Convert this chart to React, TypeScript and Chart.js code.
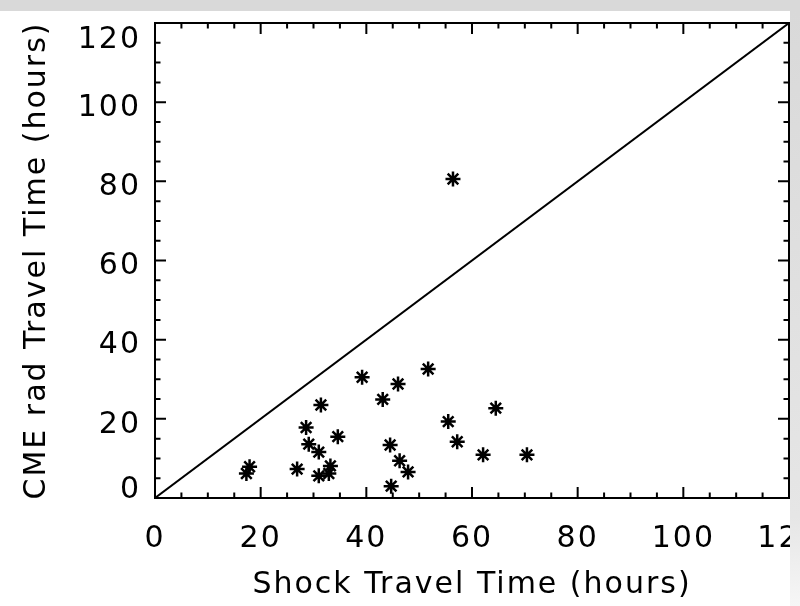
import React, { useEffect, useRef } from "react";
import { Chart, registerables } from "chart.js";

Chart.register(...registerables);

// Shock travel time (hours) vs CME rad travel time (hours)
const shockTimes = [
  17.3, 17.9, 26.9, 28.6, 29.1, 31.0, 31.4, 31.0, 32.9, 33.2, 34.6, 39.2, 43.1,
  46.0, 44.5, 46.3, 44.7, 47.9, 51.7, 56.4, 55.5, 57.2, 64.5, 62.1, 70.4,
];
const cmeTimes = [
  6.2, 7.9, 7.3, 17.8, 13.6, 11.6, 23.5, 5.6, 6.2, 8.1, 15.5, 30.5, 24.9,
  28.8, 13.4, 9.4, 3.0, 6.6, 32.6, 80.6, 19.3, 14.2, 22.7, 10.9, 10.9,
];
const refLineX = [0, 120];
const refLineY = [0, 120];
const xTickValues = [0, 20, 40, 60, 80, 100, 120];
const yTickValues = [0, 20, 40, 60, 80, 100, 120];
const xTitle = "Shock Travel Time (hours)";
const yTitle = "CME rad Travel Time (hours)";

const FONT = "'DejaVu Sans', sans-serif";

const framePlugin = {
  id: "idlFrame",
  beforeDraw(chart: any) {
    (chart.ctx as any).letterSpacing = "2px";
    // nudge the end labels of the y axis the way the original plot places them
    const ys = chart.scales.y;
    const items = ys.getLabelItems();
    items.forEach((it: any) => {
      if (it._nudged) return;
      if (it.label === "120") it.options.translation[1] += 11;
      if (it.label === "0") it.options.translation[1] -= 14;
      it._nudged = true;
    });
  },
  afterDatasetsDraw(chart: any) {
    const { ctx, chartArea } = chart;
    const xs = chart.scales.x;
    const ys = chart.scales.y;
    const { left, right, top, bottom } = chartArea;
    ctx.save();
    ctx.strokeStyle = "#000";
    ctx.lineWidth = 2;
    ctx.strokeRect(left, top, right - left, bottom - top);
    ctx.beginPath();
    for (let v = 0; v <= 120; v += 5) {
      const major = v % 20 === 0;
      const len = major ? 11 : 5.5;
      const px = xs.getPixelForValue(v);
      ctx.moveTo(px, bottom);
      ctx.lineTo(px, bottom - len);
      ctx.moveTo(px, top);
      ctx.lineTo(px, top + len);
      const py = ys.getPixelForValue(v);
      ctx.moveTo(left, py);
      ctx.lineTo(left + len, py);
      ctx.moveTo(right, py);
      ctx.lineTo(right - len, py);
    }
    ctx.stroke();
    ctx.restore();
  },
  afterDraw(chart: any) {
    const { ctx, width, height } = chart;
    ctx.save();
    (ctx as any).letterSpacing = "0px";
    ctx.fillStyle = "#d9d9d9";
    ctx.fillRect(0, 0, width, 11);
    const g = ctx.createLinearGradient(0, 11, 0, height);
    g.addColorStop(0, "#d9d9d9");
    g.addColorStop(0.85, "#e6e6e6");
    g.addColorStop(1, "#f6f6f6");
    ctx.fillStyle = g;
    ctx.fillRect(790, 11, width - 790, height - 11);
    ctx.restore();
    (ctx as any).letterSpacing = "0px";
  },
};

export default function App() {
  const ref = useRef<HTMLCanvasElement | null>(null);

  useEffect(() => {
    document.body.style.margin = "0";
    const canvas = ref.current;
    if (!canvas) return;
    const points = shockTimes.map((x, i) => ({ x, y: cmeTimes[i] }));
    const line = refLineX.map((x, i) => ({ x, y: refLineY[i] }));
    const tickFont = { family: FONT, size: 30, weight: "normal" as const };

    const chart = new Chart(canvas, {
      type: "scatter",
      data: {
        datasets: [
          {
            data: points,
            pointStyle: "star",
            pointRadius: 7.5,
            borderColor: "#000",
            backgroundColor: "#000",
            borderWidth: 2.5,
          } as any,
          {
            type: "line",
            data: line,
            borderColor: "#000",
            borderWidth: 2,
            pointRadius: 0,
            showLine: true,
            fill: false,
          } as any,
        ],
      },
      options: {
        responsive: false,
        animation: false,
        devicePixelRatio: 1,
        layout: { padding: { left: 0, top: 23, right: 11, bottom: 0 } },
        plugins: {
          legend: { display: false },
          tooltip: { enabled: false },
        },
        scales: {
          x: {
            type: "linear",
            min: 0,
            max: 120,
            afterBuildTicks: (scale: any) => {
              scale.ticks = xTickValues.map((v) => ({ value: v }));
            },
            afterFit: (scale: any) => {
              scale.height = 108;
              scale.paddingLeft = 0;
              scale.paddingRight = 0;
            },
            grid: { display: false, drawTicks: false },
            border: { display: false },
            ticks: {
              autoSkip: false,
              maxRotation: 0,
              color: "#000",
              font: tickFont,
              padding: 23,
            },
            title: {
              display: true,
              text: xTitle,
              color: "#000",
              font: tickFont,
              padding: { top: 0, bottom: 3 },
            },
          },
          y: {
            type: "linear",
            min: 0,
            max: 120,
            afterBuildTicks: (scale: any) => {
              scale.ticks = yTickValues.map((v) => ({ value: v }));
            },
            afterFit: (scale: any) => {
              scale.width = 155;
              scale.paddingTop = 0;
              scale.paddingBottom = 0;
            },
            grid: { display: false, drawTicks: false },
            border: { display: false },
            ticks: {
              autoSkip: false,
              color: "#000",
              font: tickFont,
              padding: 14,
              labelOffset: 6,
            },
            title: {
              display: true,
              text: yTitle,
              color: "#000",
              font: tickFont,
              padding: { top: 19, bottom: 0 },
            },
          },
        },
      },
      plugins: [framePlugin],
    });
    return () => chart.destroy();
  }, []);

  return (
    <div style={{ position: "fixed", left: 0, top: 0, width: 800, height: 606, background: "#fff" }}>
      <canvas ref={ref} width={800} height={606} />
    </div>
  );
}
